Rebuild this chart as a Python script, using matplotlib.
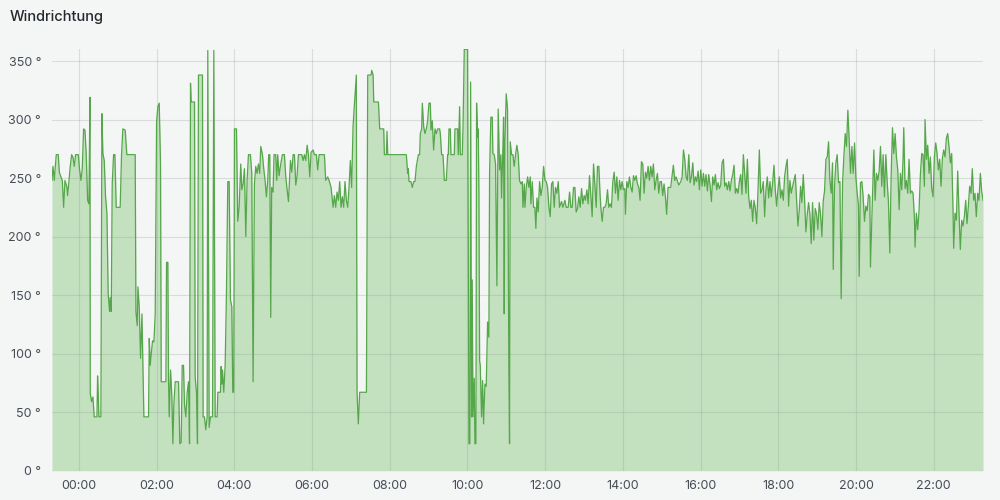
import datetime as dt
import matplotlib
matplotlib.use("Agg")
import matplotlib.pyplot as plt
import matplotlib.dates as mdates
from matplotlib.ticker import FuncFormatter, MultipleLocator

plt.rcParams["font.family"] = ["Inter", "DejaVu Sans"]

title = "Windrichtung"

# (minutes after midnight, degrees), in chunks
night = [(-41.6, 248), (-40.1, 260), (-38, 248), (-36.5, 260), (-35, 270), (-31.9, 270), (-30.3, 255),
         (-27.8, 251), (-25.7, 248), (-23.6, 225), (-21.6, 248), (-18.5, 242), (-17.5, 235), (-15.4, 248),
         (-13.4, 260), (-11.3, 270), (-9.3, 268), (-7.2, 260), (-5.1, 270), (-1, 270), (1, 257), (3.1, 248),
         (5.1, 258), (7.2, 292), (9.3, 291), (11.3, 270), (13.4, 231), (15.4, 228), (17, 319), (17.5, 66),
         (19.5, 59), (21.6, 63), (23.6, 46), (27.8, 46), (28.8, 81), (29.8, 66), (30.8, 46), (33.9, 46),
         (35.5, 305), (37, 271), (39.1, 265), (41.1, 234), (43.2, 220), (45.2, 151), (47.3, 136), (48.3, 148),
         (49.9, 136), (51.4, 245), (53.5, 270), (55.5, 270), (57.6, 225), (63.7, 225), (65.8, 270), (67.8, 292),
         (71.4, 291), (74, 270)]

early = [(86.9, 270), (88, 136), (90, 124), (91.1, 157), (93.1, 140), (95.2, 96), (97.3, 134), (100.3, 46),
         (107.5, 46), (108.6, 113), (110.1, 90), (111.7, 100), (113.7, 111), (115.8, 110), (117.8, 134),
         (119.9, 298), (121.9, 311), (124, 314), (126, 262), (127.1, 76), (134.3, 76), (135.3, 178), (137.3, 178),
         (138.4, 77), (139.4, 46), (141.5, 86), (143.5, 63), (145.1, 23), (146.6, 57), (148.7, 76), (153.8, 76),
         (155.8, 23), (157.9, 24), (159.5, 90), (161.5, 90), (163.1, 56), (165.1, 46), (167.2, 67), (169.2, 76),
         (170.8, 23), (172.3, 331), (173.3, 315), (178.5, 315), (179.5, 80), (181.6, 66), (183.1, 23), (184.6, 338),
         (190.8, 338), (191.8, 46), (193.8, 46), (195.9, 35), (198, 46), (199, 359)]

dawn = [(201.1, 37), (203.2, 46), (206.3, 46), (208.3, 359), (210.4, 46), (213.4, 46), (214.5, 67), (218.6, 67),
        (219.6, 89), (220.6, 74), (221.7, 86), (223.7, 67), (225.8, 90), (227.8, 151), (229.9, 247), (232, 247),
        (234, 146), (236.1, 140), (237.6, 67), (239.1, 67), (240.2, 292), (243.3, 292), (245.3, 213), (247.4, 225),
        (249.9, 262), (251.5, 240), (253.5, 245), (255.6, 258), (257.7, 200), (259.7, 248), (261.8, 270),
        (264.8, 270), (266.9, 254), (269, 76), (271, 245), (273.1, 260), (275.1, 254), (277.2, 262), (279.2, 254),
        (280.8, 277), (283.4, 270), (285.4, 258), (287.5, 248), (289.5, 234), (291.6, 248), (293.1, 270),
        (294.7, 270), (296.2, 131), (297.7, 242), (299.8, 238), (301.3, 270), (303.9, 270), (305.5, 248),
        (307, 270), (309.1, 252), (311.1, 260), (314.2, 270), (317.3, 270), (319.3, 252)]

morning = [(321.5, 240), (323.6, 230), (326.7, 265), (328.7, 255), (330.8, 270), (332.8, 270), (334.9, 244),
           (336.9, 252), (339, 270), (344.1, 270), (346.2, 265), (348.2, 270), (350.3, 265), (352.4, 278),
           (354.4, 270), (356.5, 251), (358.5, 272), (361.6, 274), (363.7, 270), (366.7, 270), (368.8, 257),
           (370.9, 270), (379.1, 270), (381.1, 248), (384.2, 251), (386.3, 248), (389.4, 242), (392.5, 225),
           (394.5, 235), (396.6, 225), (398.6, 238), (400.7, 231), (402.7, 247), (404.8, 225), (406.8, 234),
           (408.9, 225), (410.9, 247), (413, 231), (415.1, 225), (417.1, 242), (419.2, 265), (421.2, 242),
           (423.3, 294), (425.3, 312), (428.4, 338), (429.5, 67), (431.5, 40), (433.6, 67), (440.8, 67)]

late_morning = [(444, 67), (446, 338), (451.2, 338), (452.2, 342), (454.3, 338), (455.3, 315), (462.5, 315),
                (464.5, 292), (470.7, 292), (471.7, 270), (474.8, 270), (475.8, 290), (476.9, 270), (505.6, 270),
                (507.7, 254), (508.7, 258), (509.8, 247), (512.8, 247), (514.9, 242), (517, 247), (519, 247),
                (521.1, 260), (524.2, 270), (526.2, 270), (527.2, 288), (529.3, 292), (530.3, 314), (532.4, 294),
                (534.4, 288), (536.5, 292), (538.5, 299), (540.6, 314), (542.7, 314), (543.7, 291), (545.7, 299),
                (547.8, 274), (549.9, 292), (551.9, 288), (554, 292), (557, 292), (558.1, 288), (560.1, 270)]

noon = [(562.2, 270), (564.3, 248), (567.4, 248), (569.4, 270), (570.4, 270), (571.5, 292), (573.5, 292),
        (574.5, 270), (579.7, 270), (580.7, 292), (584.8, 292), (585.9, 270), (587.9, 311), (589, 270), (592, 270),
        (593.1, 292), (595.1, 360), (600.2, 360), (602.3, 23), (603.8, 23), (604.9, 332), (606.4, 46),
        (607.4, 163), (608.5, 46), (610.5, 79), (611.6, 23), (613.1, 23), (614.1, 314), (615.7, 285), (616.7, 292),
        (617.7, 240), (618.8, 94), (619.8, 90), (621.8, 46), (623.4, 77), (624.9, 40), (627, 74), (629, 72),
        (631.1, 127), (633.1, 114), (634.2, 255), (636.2, 302), (638.3, 302), (639.3, 271), (641.4, 270),
        (643.4, 262), (645.5, 158), (647.5, 309), (649.6, 257), (651.6, 270), (652.7, 233), (654.7, 275),
        (655.8, 302), (656.8, 134), (657.8, 281), (659.9, 322), (661.9, 309), (664, 86), (665, 23), (666.1, 281),
        (668.1, 270), (670.2, 270), (672.2, 260), (674.3, 270), (676.3, 278), (678.4, 270), (680.4, 248)]

midday = [(682.6, 245), (684.7, 247), (685.7, 225), (687.8, 245), (688.8, 225), (690.8, 242), (692.9, 251),
          (694.9, 242), (697, 251), (698, 228), (700.1, 247), (702.1, 225), (704.1, 225), (705.7, 207),
          (707.3, 233), (709.3, 221), (711.4, 247), (713.5, 235), (715.5, 242), (717.6, 260), (719.6, 248),
          (721.7, 247), (723.7, 242), (725.8, 225), (727.8, 217), (729.9, 245), (731.9, 247), (734, 225),
          (736, 242), (738.1, 237), (740.2, 247), (742.2, 225), (745.3, 230), (747.4, 225), (750.5, 231),
          (752.5, 225), (755.6, 225), (757.7, 238), (759.7, 225), (761.8, 225), (763.8, 242), (765.9, 242),
          (767.9, 221), (770, 224), (772, 234), (774.1, 225), (776.2, 241), (778.2, 228), (780.3, 235),
          (782.3, 231), (784.4, 240), (786.4, 228), (788.5, 252), (790.6, 235), (792.6, 217), (794.7, 262),
          (796.7, 245), (798.8, 225), (800.8, 260)]

afternoon = [(802.9, 260), (805, 234), (806, 225), (808.1, 213), (810.1, 225), (812.2, 225), (814.2, 228),
             (816.3, 240), (818.3, 225), (820.4, 228), (822.4, 225), (824.5, 247), (826.6, 255), (828.6, 237),
             (830.7, 251), (832.7, 231), (834.8, 248), (836.8, 240), (838.9, 247), (840.9, 240), (843, 241),
             (844, 219), (846.1, 247), (848.1, 242), (850.2, 251), (852.3, 242), (854.3, 238), (856.4, 252),
             (858.4, 248), (860.5, 252), (862.5, 245), (864.6, 242), (866.6, 231), (868.7, 264), (870.8, 262),
             (872.8, 237), (874.9, 255), (876.9, 250), (879, 260), (881, 248), (883.1, 260), (885.1, 251),
             (887.2, 262), (889.3, 240), (891.3, 248), (893.4, 254), (895.4, 237), (897.5, 247), (899.5, 247),
             (901.6, 235), (903.6, 245), (905.7, 234), (907.7, 219), (909.8, 242), (911.9, 242), (913.9, 242),
             (916, 252), (918, 261), (920.1, 248), (922.1, 251)]

late_afternoon = [(926.4, 244), (929.5, 247), (931.5, 251), (933.6, 274), (935.6, 266), (937.7, 251), (939.7, 248),
                  (941.8, 270), (943.9, 246), (945.9, 251), (948, 263), (950, 244), (952.1, 251), (954.1, 247),
                  (956.2, 256), (958.3, 240), (960.3, 257), (962.4, 243), (964.4, 254), (966.5, 243), (968.5, 253),
                  (970.6, 239), (972.6, 253), (974.7, 244), (976.8, 230), (978.8, 251), (980.9, 244), (982.9, 253),
                  (985, 240), (987, 246), (989.1, 241), (991.1, 244), (993.2, 263), (995.3, 266), (997.3, 243),
                  (999.4, 246), (1001.4, 240), (1003.5, 247), (1005.5, 239), (1007.6, 248), (1009.7, 253),
                  (1011.7, 261), (1013.8, 237), (1015.8, 241), (1017.9, 237), (1019.9, 247), (1022, 253),
                  (1024, 236), (1026.1, 270), (1028.2, 253), (1030.2, 237), (1032.3, 266), (1034.3, 234),
                  (1036.4, 224), (1038.4, 231), (1040.5, 213), (1042.5, 231), (1044.6, 224), (1046.7, 211),
                  (1048.7, 239), (1050.8, 274), (1052.8, 237), (1054.9, 240), (1056.9, 247), (1059, 217),
                  (1061, 240), (1063.1, 251), (1065.2, 233), (1067.2, 247), (1069.3, 234), (1071.3, 246),
                  (1073.4, 261), (1075.4, 240), (1077.5, 226), (1079.5, 240), (1081.6, 251), (1083.7, 233),
                  (1085.7, 240), (1087.8, 231), (1089.8, 251), (1091.9, 260), (1093.9, 266), (1096, 226),
                  (1098, 248), (1100.1, 237), (1102.2, 243), (1104.2, 248), (1106.3, 253), (1108.3, 231),
                  (1110.4, 209), (1112.4, 222), (1114.5, 243), (1116.5, 229), (1118.6, 253), (1120.7, 231),
                  (1122.7, 204), (1124.8, 219), (1126.8, 229), (1128.9, 219), (1130.9, 194), (1133, 229),
                  (1135, 197), (1137.1, 224), (1139.2, 219), (1141.2, 206), (1143.3, 229), (1145.3, 219),
                  (1147.4, 200), (1149.4, 230)]

evening = [(1151.5, 239), (1153.6, 266), (1155.6, 268), (1157.7, 281), (1159.7, 248), (1161.8, 237), (1163.8, 263),
           (1164.9, 172), (1166.9, 243), (1169, 263), (1171, 270), (1173.1, 246), (1175.2, 247), (1177.2, 147),
           (1179.3, 246), (1181.3, 268), (1183.4, 288), (1185.4, 277), (1187.5, 308), (1189.5, 283), (1191.6, 254),
           (1193.7, 277), (1195.7, 254), (1197.8, 280), (1199.8, 251), (1201.9, 237), (1203.9, 227), (1205, 166),
           (1207, 246), (1209.1, 247), (1211.1, 234), (1213.2, 213), (1215.3, 226), (1217.3, 222), (1219.4, 236),
           (1221.4, 234), (1222.4, 174), (1224.5, 214), (1226.6, 257), (1227.6, 274), (1229.6, 231), (1231.7, 254),
           (1233.8, 248), (1235.8, 256), (1237.9, 277), (1239.9, 243), (1242, 270), (1244, 234), (1246.1, 270),
           (1248.1, 248), (1250.2, 229), (1252.3, 186), (1254.3, 251), (1256.4, 293), (1258.4, 271), (1260.5, 288),
           (1262.5, 268), (1264.6, 257), (1266.7, 223), (1268.7, 254), (1270.8, 240), (1272.8, 268), (1273.8, 293),
           (1275.9, 241), (1277.9, 248), (1280, 237), (1282, 266), (1284.1, 237), (1286.2, 239), (1288.2, 237),
           (1290.3, 216), (1291.3, 191), (1293.3, 220), (1295.4, 206), (1297.5, 223), (1299.5, 253), (1301.6, 271),
           (1303.6, 270), (1305.7, 243), (1306.7, 300), (1308.8, 266), (1310.8, 278), (1312.9, 254), (1314.9, 268),
           (1317, 241), (1319.1, 234), (1321.1, 268), (1323.2, 280), (1325.2, 271), (1327.3, 257), (1329.3, 266),
           (1331.4, 243), (1333.5, 267), (1335.5, 274), (1337.6, 268), (1339.6, 284), (1341.7, 288), (1343.7, 277),
           (1345.8, 263), (1347.8, 271), (1349.9, 223), (1350.9, 190), (1353, 220), (1355.1, 214), (1357.1, 256),
           (1359.2, 220), (1361.2, 189), (1363.3, 214), (1365.3, 209), (1367.4, 217), (1369.5, 231), (1371.5, 211),
           (1373.6, 226), (1375.6, 243), (1377.7, 237), (1379.7, 258), (1381.8, 231), (1383.8, 237), (1385.9, 217),
           (1388, 237), (1390, 231), (1392.1, 254), (1394.1, 239), (1396.2, 231)]

chunks = [night, early, dawn, morning, late_morning, noon, midday, afternoon, late_afternoon, evening]
day = dt.datetime(2024, 5, 14)
times = [day + dt.timedelta(minutes=m) for c in chunks for m, _ in c]
degs = [d for c in chunks for _, d in c]

bg = "#f4f5f5"
fig = plt.figure(figsize=(10, 5), dpi=100, facecolor=bg)
ax = fig.add_axes([0.052, 0.0586, 0.931, 0.8428], facecolor=bg)

ax.fill_between(times, degs, 0, color="#73bf69", alpha=0.38, linewidth=0, zorder=2)
ax.plot(times, degs, color="#56a64b", linewidth=0.9, zorder=3)

ax.set_ylim(0, 360)
ax.set_xlim(times[0], times[-1])
ax.yaxis.set_major_locator(MultipleLocator(50))
ax.yaxis.set_major_formatter(FuncFormatter(lambda v, p: f"{v:.0f} °"))
ax.xaxis.set_major_locator(mdates.HourLocator(byhour=range(0, 24, 2)))
ax.xaxis.set_major_formatter(mdates.DateFormatter("%H:%M"))

ax.grid(True, color="#7f8086", alpha=0.22, linewidth=0.8, zorder=1)
ax.set_axisbelow(True)
for s in ax.spines.values():
    s.set_visible(False)
ax.tick_params(length=0, labelsize=9, colors="#464c54")
ax.tick_params(axis="y", pad=8)
ax.tick_params(axis="x", pad=7)

fig.text(0.01, 0.966, title, fontsize=10.5, fontweight="medium", color="#24292e", va="center", ha="left")

fig.savefig("out.png", dpi=100, facecolor=bg)
